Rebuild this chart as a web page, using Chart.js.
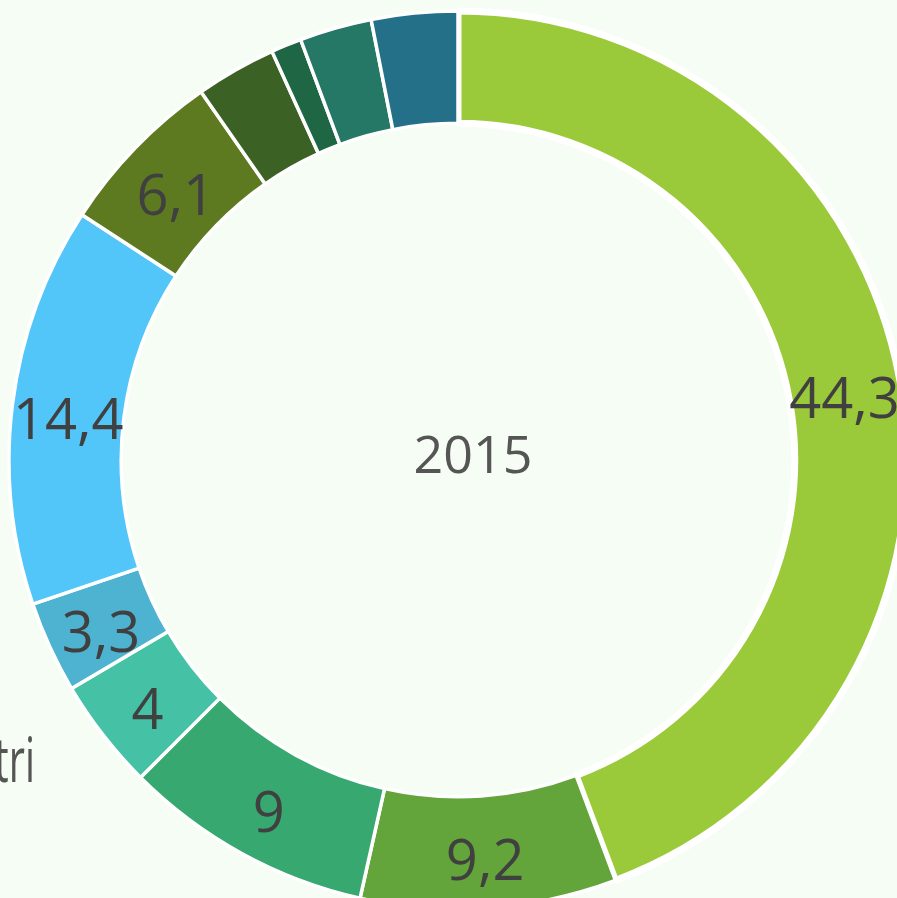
<!DOCTYPE html>
<html>
<head>
<meta charset="utf-8">
<script src="https://cdn.jsdelivr.net/npm/chart.js@4/dist/chart.umd.min.js"></script>
<style>
  html, body { margin: 0; padding: 0; background: #f5fdf4; overflow: hidden; }
  #wrap { position: relative; width: 897px; height: 898px; }
</style>
</head>
<body>
<div id="wrap"><canvas id="quoteChart"></canvas></div>
<script>
  // Quote 2015 (%), clockwise from the top
  const categories = ["A", "B", "C", "D", "E", "F", "G", "H", "I", "L", "Altri"];
  const shares = [44.3, 9.2, 9, 4, 3.3, 14.4, 6.1, 2.9, 1.1, 2.6, 3.1];
  const sliceColors = [
    "#9aca3a", "#63a53a", "#37a870", "#45c1a5", "#4db3d1", "#52c5f9",
    "#5e7a21", "#3b6224", "#1f6645", "#257866", "#247088"
  ];
  const centerLabel = "2015";
  const legendText = "Altri";

  // draws the value labels, the year in the hole and the cut-off legend text
  const labelPlugin = {
    id: "sliceLabels",
    afterDatasetsDraw(chart) {
      const ctx = chart.ctx;
      const meta = chart.getDatasetMeta(0);
      ctx.save();
      ctx.fillStyle = "#404040";
      ctx.font = "56px 'Open Sans', sans-serif";
      ctx.textAlign = "center";
      ctx.textBaseline = "middle";
      meta.data.forEach(function (arc, i) {
        if (shares[i] < 3.2) return;
        const pos = arc.tooltipPosition();
        const text = String(shares[i]).replace(".", ",");
        ctx.fillText(text, pos.x, pos.y + 12);
      });

      const c = meta.data[0];
      ctx.fillStyle = "#555555";
      ctx.font = "52px 'Open Sans', sans-serif";
      ctx.fillText(centerLabel, c.x + 15, c.y - 2);

      // legend entry is cut off by the left edge; narrow face like the original
      ctx.textAlign = "right";
      ctx.textBaseline = "alphabetic";
      ctx.font = "62px 'Open Sans', sans-serif";
      ctx.translate(35, 782);
      ctx.scale(0.64, 1);
      ctx.fillText(legendText, 0, 0);
      ctx.restore();
    }
  };

  const borderWidths = shares.map(function (v, i) { return i === 0 ? 7 : 3.5; });

  new Chart(document.getElementById("quoteChart"), {
    type: "doughnut",
    data: {
      labels: categories,
      datasets: [
        {
          data: shares,
          backgroundColor: sliceColors,
          borderColor: "#ffffff",
          borderWidth: borderWidths,
        },
      ],
    },
    options: {
      responsive: true,
      maintainAspectRatio: false,
      animation: false,
      radius: 449,
      cutout: "75%",
      layout: { padding: { left: 19, top: 22 } },
      plugins: {
        legend: { display: false },
        tooltip: { enabled: false },
      },
    },
    plugins: [labelPlugin],
  });
</script>
</body>
</html>
